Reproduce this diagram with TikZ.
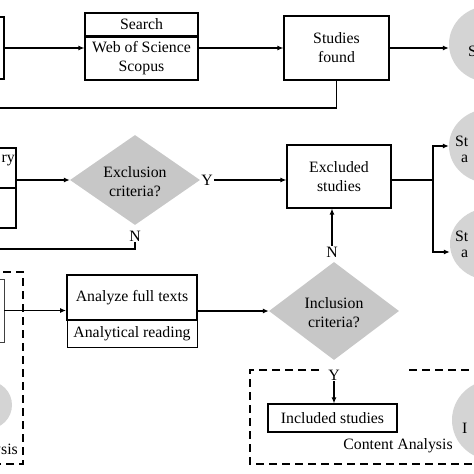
\documentclass[tikz,border=0pt]{standalone}
\usepackage{fontspec}
\setmainfont{Liberation Serif}
\usetikzlibrary{shapes.geometric,arrows.meta}
\begin{document}
\begin{tikzpicture}[x=1pt,y=-1pt,
  every node/.style={font=\fontsize{15.8}{19}\selectfont},
  box/.style={draw, line width=1.1pt, inner sep=0pt, align=center},
  thickbox/.style={draw, line width=1.8pt, inner sep=0pt, align=center},
  conn/.style={line width=1.7pt},
  arr/.style={line width=1.7pt, -{Latex[length=6pt,width=5pt]}},
  dia/.style={diamond, fill=black!22, inner sep=0pt},
  blob/.style={ellipse, fill=black!17, inner sep=0pt},
  lbl/.style={inner sep=1pt},
  dashline/.style={line width=1.6pt, dash pattern=on 8pt off 5pt}]
\useasboundingbox (0,0) rectangle (474,474);

% ---------- top row ----------
\node[box, minimum width=64pt, minimum height=62pt] (leftA) at (-28,48) {};
\node[box, minimum width=113pt, minimum height=23pt] (searchh) at (141.5,24.5) {Search};
\node[box, minimum width=113pt, minimum height=44pt] (searchb) at (141.5,58) {Web of Science\\Scopus};
\draw[line width=2.2pt] (searchh.south west) -- (searchh.south east);
\node[box, minimum width=105pt, minimum height=64pt] (studies) at (336.5,48) {Studies\\found};
\node[blob, minimum width=80pt, minimum height=76pt] (ellTop) at (489,44) {};
\node[anchor=west, inner sep=0pt] (ellTopTx) at (468,51) {S};

\draw[arr] (leftA.east) -- (leftA.east -| searchb.west);
\draw[arr] (searchb.east |- studies.west) -- (studies.west);
\draw[arr] (studies.east) -- (studies.east -| ellTop.west);
\coordinate (ret1) at (-10,108);
\draw[conn] (studies.south) |- (ret1);

% ---------- middle row ----------
\node[thickbox, minimum width=96pt, minimum height=40pt] (leftBu) at (-32,168) {};
\node[box, minimum width=96pt, minimum height=40pt] (leftBl) at (-32,208) {};
\node[anchor=east, inner sep=0pt] (leftBtx) at (15,160) {ry};
\node[dia, minimum width=130pt, minimum height=90pt] (excl) at (135,180) {};
\node[align=center, inner sep=0pt] (excltx) at (135,182) {Exclusion\\criteria?};
\node[lbl] (Yex) at (207,180) {Y};
\node[lbl] (Nex) at (135,236) {N};
\node[box, minimum width=104pt, minimum height=63pt] (excluded) at (339,176.5) {Excluded\\studies};
\node[blob, minimum width=80pt, minimum height=74pt] (ellUp) at (489,146) {};
\node[anchor=west, inner sep=0pt] (ellUpA) at (455,141) {St};
\node[anchor=west, inner sep=0pt] (ellUpB) at (461,159) {a};
\node[blob, minimum width=80pt, minimum height=72pt] (ellLow) at (490,244) {};
\node[anchor=west, inner sep=0pt] (ellLowA) at (455,236) {St};
\node[anchor=west, inner sep=0pt] (ellLowB) at (461,254) {a};

\draw[arr] (excl.west -| leftBu.east) -- (excl.west);
\draw[arr] (Yex.east) -- (Yex.east -| excluded.west);
\coordinate (ret2) at (-10,249);
\draw[conn] (Nex.south) |- (ret2);
\coordinate (jn) at (433,180);
\draw[conn] (excluded.east |- jn) -- (jn);
\draw[arr] (jn) |- (ellUp.west);
\draw[arr] (jn) |- ([yshift=-8pt]ellLow.west);

% ---------- bottom row ----------
\node[box, line width=0.9pt, draw=black!75, minimum width=64pt, minimum height=63pt] (leftC) at (-28,310.5) {};
\node[blob, minimum width=48pt, minimum height=48pt] (ellLeft) at (-12,405) {};
\node[anchor=east, inner sep=0pt] (leftCA) at (18,451) {Content Analysis};
\node[thickbox, minimum width=130pt, minimum height=45pt] (analyze) at (132,297.5) {Analyze full texts};
\node[box, line width=0.9pt, minimum width=130pt, minimum height=27pt] (reading) at (132,333.5) {Analytical reading};
\node[dia, minimum width=130pt, minimum height=98pt] (incl) at (334,311) {};
\node[align=center, inner sep=0pt] (incltx) at (334,313) {Inclusion\\criteria?};
\node[lbl] (Nin) at (332,252) {N};
\node[lbl] (Yin) at (334,375) {Y};
\node[box, minimum width=129pt, minimum height=28pt] (included) at (332.5,418) {Included studies};
\node[inner sep=0pt] (catx) at (398,446) {Content Analysis};
\node[blob, minimum width=82pt, minimum height=80pt] (ellBot) at (493,420) {};
\node[anchor=west, inner sep=0pt] (ellBotTx) at (462,428) {I};

\draw[arr] (leftC.east) -- (leftC.east -| analyze.west);
\draw[arr] (analyze.east |- incl.west) -- (incl.west);
\draw[arr] (Nin.north) -- (Nin.north |- excluded.south);
\draw[arr] (Yin.south) -- (Yin.south |- included.north);

% dashed frames
\draw[dashline] (-10,272) -- (23,272) -- (23,464) -- (-10,464);
\draw[dashline] (319,370) -- (250,370) -- (250,464) -- (520,464);
\draw[dashline] (409,370) -- (520,370);
\end{tikzpicture}
\end{document}
